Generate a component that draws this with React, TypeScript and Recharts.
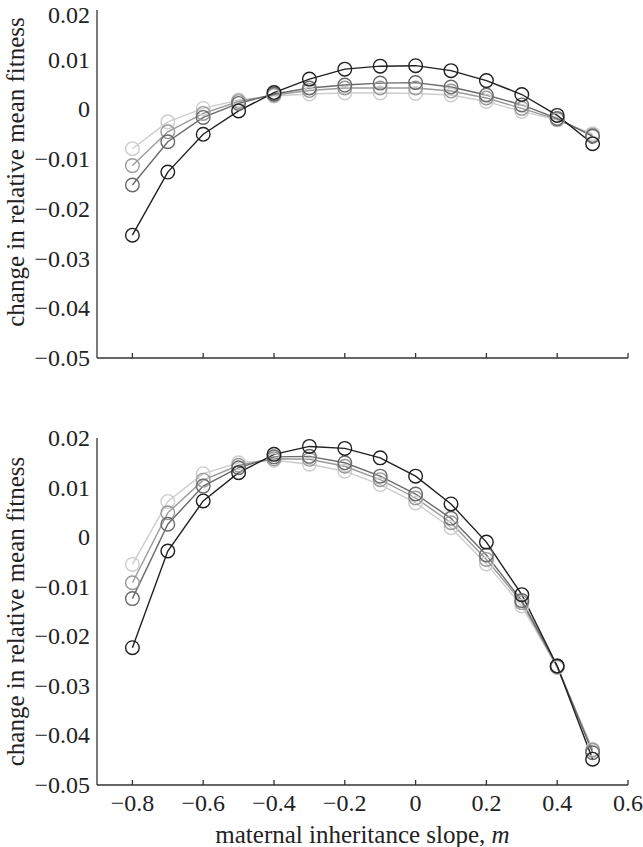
import { LineChart, Line, XAxis, YAxis, Label } from "recharts";

const mValues = [-0.8, -0.7, -0.6, -0.5, -0.4, -0.3, -0.2, -0.1, 0, 0.1, 0.2, 0.3, 0.4, 0.5];

// upper panel
const topBlack = [-0.0253, -0.0126, -0.005, -0.0003, 0.0034, 0.0061, 0.0081, 0.0087, 0.0088, 0.0078, 0.0058, 0.003, -0.0012, -0.0069];
const topDark = [-0.0152, -0.0065, -0.0016, 0.0012, 0.0031, 0.0043, 0.0049, 0.0053, 0.0054, 0.0045, 0.0029, 0.0009, -0.0018, -0.0054];
const topMid = [-0.0113, -0.0045, -0.0008, 0.0016, 0.0029, 0.0038, 0.0043, 0.0043, 0.0043, 0.0037, 0.0023, 0.0002, -0.002, -0.0052];
const topLight = [-0.0079, -0.0025, 0.0002, 0.0019, 0.0027, 0.0031, 0.0033, 0.0033, 0.0032, 0.0029, 0.0016, -0.0004, -0.0021, -0.0049];

// lower panel
const botBlack = [-0.0223, -0.0028, 0.0073, 0.013, 0.0167, 0.0183, 0.0179, 0.016, 0.0123, 0.0067, -0.001, -0.0116, -0.026, -0.0448];
const botDark = [-0.0124, 0.0026, 0.0103, 0.014, 0.0162, 0.0163, 0.015, 0.0123, 0.0087, 0.0038, -0.0036, -0.0128, -0.026, -0.0435];
const botMid = [-0.0092, 0.0049, 0.0115, 0.0145, 0.0158, 0.0157, 0.0143, 0.0116, 0.0079, 0.0029, -0.0045, -0.0132, -0.0262, -0.043];
const botLight = [-0.0055, 0.0072, 0.0128, 0.015, 0.0155, 0.0147, 0.0133, 0.0106, 0.0069, 0.0019, -0.0054, -0.0139, -0.0263, -0.0428];

const xTicks = [-0.8, -0.6, -0.4, -0.2, 0, 0.2, 0.4, 0.6];
const yTicks = [-0.05, -0.04, -0.03, -0.02, -0.01, 0, 0.01, 0.02];

const seriesColors = { light: "#cdcdcd", mid: "#9a9a9a", dark: "#6a6a6a", black: "#202020" };

const FONT = "Liberation Serif, DejaVu Serif, serif";

function buildRows(light: number[], mid: number[], dark: number[], black: number[]) {
  return mValues.map((m, i) => ({ m, light: light[i], mid: mid[i], dark: dark[i], black: black[i] }));
}

const fmt = (v: number, digits: number) => {
  if (Math.abs(v) < 1e-9) return "0";
  const s = Math.abs(v).toFixed(digits);
  return v < 0 ? "\u2212" + s : s;
};

const order: (keyof typeof seriesColors)[] = ["light", "mid", "dark", "black"];

const XTick = (props: any) => (
  <text x={props.x} y={props.y + 17} textAnchor="middle" fontFamily={FONT} fontSize={24} fill="#222">
    {fmt(props.payload.value, 1)}
  </text>
);

// the top label of the upper panel sits a little lower so it is not cut at the page edge
const makeYTick = (nudgeTop: boolean) => (props: any) => {
  const v = props.payload.value;
  const dy = nudgeTop && v > 0.019 ? 5 : 0;
  return (
    <text x={props.x} y={props.y + 8 + dy} textAnchor="end" fontFamily={FONT} fontSize={24} fill="#222">
      {fmt(v, 2)}
    </text>
  );
};

const NoTick = () => <g />;

function yTitle(offsetY: number) {
  return (props: any) => {
    const vb = props.viewBox;
    const cy = vb.y + vb.height / 2 + offsetY;
    return (
      <text
        x={24}
        y={cy}
        transform={`rotate(-90, 24, ${cy})`}
        textAnchor="middle"
        fontFamily={FONT}
        fontSize={25}
        fill="#222"
      >
        change in relative mean fitness
      </text>
    );
  };
}

function Panel({ rows, bottom }: { rows: any[]; bottom: boolean }) {
  const height = bottom ? 447 : 400;
  return (
    <LineChart
      width={643}
      height={height}
      data={rows}
      margin={bottom ? { top: 38, right: 15, bottom: 0, left: 0 } : { top: 10, right: 15, bottom: 41, left: 0 }}
    >
      <XAxis
        dataKey="m"
        type="number"
        domain={[-0.9, 0.6]}
        ticks={xTicks}
        allowDataOverflow
        height={bottom ? 62 : 1}
        stroke="#333"
        strokeWidth={1.3}
        tickSize={-5}
        tickMargin={14}
        tick={bottom ? XTick : NoTick}
      >
        {bottom && (
          <Label
            content={(props: any) => {
              const vb = props.viewBox;
              return (
                <text x={vb.x + vb.width / 2} y={443} textAnchor="middle" fontFamily={FONT} fontSize={25} fill="#222">
                  maternal inheritance slope, <tspan fontStyle="italic">m</tspan>
                </text>
              );
            }}
          />
        )}
      </XAxis>
      <YAxis
        type="number"
        domain={[-0.05, 0.02]}
        ticks={yTicks}
        allowDataOverflow
        width={97}
        stroke="#333"
        strokeWidth={1.3}
        tickLine={false}
        tickSize={0}
        tickMargin={7}
        tick={makeYTick(!bottom)}
      >
        <Label content={yTitle(bottom ? 0 : -12)} />
      </YAxis>
      {order.map((key) => (
        <Line
          key={key}
          dataKey={key}
          stroke={seriesColors[key]}
          strokeWidth={1.4}
          dot={{ r: 6.8, fill: "none", stroke: seriesColors[key], strokeWidth: 1.4 }}
          isAnimationActive={false}
        />
      ))}
    </LineChart>
  );
}

export default function App() {
  const topRows = buildRows(topLight, topMid, topDark, topBlack);
  const botRows = buildRows(botLight, botMid, botDark, botBlack);
  return (
    <div style={{ position: "absolute", left: 0, top: 0, width: 643, height: 847, background: "#fff" }}>
      <div style={{ position: "absolute", left: 0, top: 0 }}>
        <Panel rows={topRows} bottom={false} />
      </div>
      <div style={{ position: "absolute", left: 0, top: 400 }}>
        <Panel rows={botRows} bottom={true} />
      </div>
    </div>
  );
}
